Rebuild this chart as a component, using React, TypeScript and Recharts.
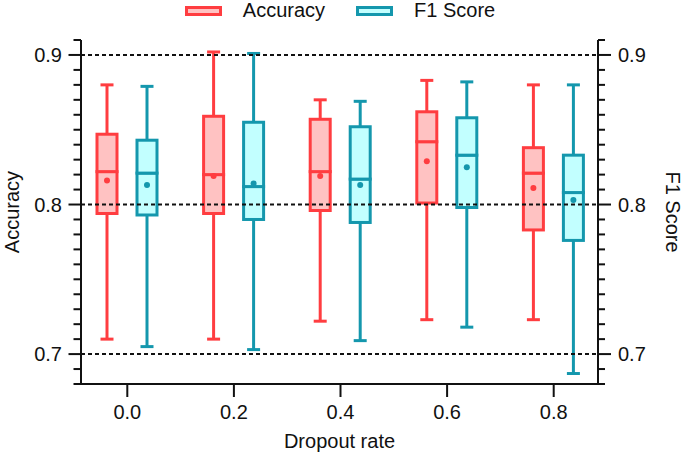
import React from 'react';
import { ComposedChart, Bar, XAxis, YAxis, ReferenceLine, Legend } from 'recharts';

// ---- data ----
const rates = ['0.0', '0.2', '0.4', '0.6', '0.8'];

const accMin = [0.710, 0.710, 0.722, 0.723, 0.723];
const accQ1 = [0.794, 0.794, 0.796, 0.801, 0.783];
const accMedian = [0.822, 0.820, 0.822, 0.842, 0.821];
const accQ3 = [0.847, 0.859, 0.857, 0.862, 0.838];
const accMax = [0.880, 0.902, 0.870, 0.883, 0.880];
const accMean = [0.816, 0.819, 0.819, 0.829, 0.811];

const f1Min = [0.705, 0.703, 0.709, 0.718, 0.687];
const f1Q1 = [0.793, 0.790, 0.788, 0.798, 0.776];
const f1Median = [0.821, 0.812, 0.817, 0.833, 0.808];
const f1Q3 = [0.843, 0.855, 0.852, 0.858, 0.833];
const f1Max = [0.879, 0.901, 0.869, 0.882, 0.880];
const f1Mean = [0.813, 0.814, 0.813, 0.825, 0.803];

const yTicks = [0.68, 0.69, 0.70, 0.71, 0.72, 0.73, 0.74, 0.75, 0.76, 0.77, 0.78, 0.79, 0.80,
  0.81, 0.82, 0.83, 0.84, 0.85, 0.86, 0.87, 0.88, 0.89, 0.90, 0.91];
const yMajor = [0.7, 0.8, 0.9];
const yDomain = [0.68, 0.91];

const seriesNames = ['Accuracy', 'F1 Score'];
const seriesStroke = ['#FF3D40', '#1497AD'];
const seriesFill = ['#FFC2C2', '#C2FFFF'];

// ---- table built from the arrays ----
const rows = rates.map((rate, i) => ({
  rate,
  accBase: accMin[i],
  accWLow: accQ1[i] - accMin[i],
  accBLow: accMedian[i] - accQ1[i],
  accBHigh: accQ3[i] - accMedian[i],
  accWHigh: accMax[i] - accQ3[i],
  accMedianV: accMedian[i],
  accQ3V: accQ3[i],
  accMeanV: accMean[i],
  f1Base: f1Min[i],
  f1WLow: f1Q1[i] - f1Min[i],
  f1BLow: f1Median[i] - f1Q1[i],
  f1BHigh: f1Q3[i] - f1Median[i],
  f1WHigh: f1Max[i] - f1Q3[i],
  f1MedianV: f1Median[i],
  f1Q3V: f1Q3[i],
  f1MeanV: f1Mean[i],
}));

const FONT = '"Liberation Sans", Arial, Helvetica, sans-serif';
const FS = 20;
const LW = 3;
const CAP = 13;
const AXIS = '#111';

const Empty = () => <g />;

const whiskerLow = (color: string) => (p: any) => {
  const cx = p.x + p.width / 2;
  const yb = p.y + p.height;
  return (
    <g>
      <line x1={cx} x2={cx} y1={p.y} y2={yb} stroke={color} strokeWidth={LW} />
      <line x1={cx - CAP / 2} x2={cx + CAP / 2} y1={yb} y2={yb} stroke={color} strokeWidth={LW} />
    </g>
  );
};

const whiskerHigh = (color: string) => (p: any) => {
  const cx = p.x + p.width / 2;
  return (
    <g>
      <line x1={cx} x2={cx} y1={p.y} y2={p.y + p.height} stroke={color} strokeWidth={LW} />
      <line x1={cx - CAP / 2} x2={cx + CAP / 2} y1={p.y} y2={p.y} stroke={color} strokeWidth={LW} />
    </g>
  );
};

const boxLow = (color: string, fill: string) => (p: any) => (
  <rect x={p.x} y={p.y} width={p.width} height={p.height} fill={fill} stroke={color} strokeWidth={LW} />
);

// upper half of box; mean dot placed on the scale defined by this segment (q3 at top, median at bottom)
const boxHigh = (color: string, fill: string, key: string) => (p: any) => {
  const pl = p.payload || {};
  const q3 = pl[key + 'Q3V'];
  const med = pl[key + 'MedianV'];
  const mean = pl[key + 'MeanV'];
  const cy = p.y + (p.height * (q3 - mean)) / (q3 - med);
  return (
    <g>
      <rect x={p.x} y={p.y} width={p.width} height={p.height} fill={fill} stroke={color} strokeWidth={LW} />
      <circle cx={p.x + p.width / 2} cy={cy} r={3} fill={color} />
    </g>
  );
};

const isMajor = (v: number) => yMajor.some((m) => Math.abs(m - v) < 1e-6);

const LeftTick = (p: any) => {
  const v = p.payload.value;
  const major = isMajor(v);
  return (
    <g>
      <line x1={p.x} x2={p.x - (major ? 12.5 : 7.5)} y1={p.y} y2={p.y} stroke={AXIS} strokeWidth={2} />
      {major && (
        <text x={p.x - 19} y={p.y} dy="0.36em" textAnchor="end" fontSize={FS} fill={AXIS} fontFamily={FONT}>
          {v.toFixed(1)}
        </text>
      )}
    </g>
  );
};

const RightTick = (p: any) => {
  const v = p.payload.value;
  const major = isMajor(v);
  return (
    <g>
      <line x1={p.x} x2={p.x + (major ? 13 : 7)} y1={p.y} y2={p.y} stroke={AXIS} strokeWidth={2} />
      {major && (
        <text x={p.x + 20} y={p.y} dy="0.36em" textAnchor="start" fontSize={FS} fill={AXIS} fontFamily={FONT}>
          {v.toFixed(1)}
        </text>
      )}
    </g>
  );
};

const LegendContent = () => (
  <div
    style={{
      display: 'flex',
      justifyContent: 'center',
      alignItems: 'center',
      height: 21,
      fontFamily: FONT,
      fontSize: FS,
      lineHeight: '21px',
      color: AXIS,
      whiteSpace: 'nowrap',
    }}
  >
    {seriesNames.map((name, i) => (
      <div key={name} style={{ display: 'flex', alignItems: 'center', marginLeft: i === 0 ? 0 : 31 }}>
        <svg width={37} height={10} style={{ display: 'block' }}>
          <rect x={1.5} y={1.5} width={34} height={7} fill={seriesFill[i]} stroke={seriesStroke[i]} strokeWidth={3} />
        </svg>
        <span style={{ marginLeft: 21, lineHeight: '21px' }}>{name}</span>
      </div>
    ))}
  </div>
);

const leftTitle = (p: any) => {
  const vb = p.viewBox || { x: 0, y: 40, width: 81, height: 344 };
  const x = vb.x + 12;
  const y = vb.y + vb.height / 2;
  return (
    <text x={x} y={y} dy="0.36em" transform={`rotate(-90, ${x}, ${y})`} textAnchor="middle" fontSize={FS} fill={AXIS} fontFamily={FONT}>
      Accuracy
    </text>
  );
};

const rightTitle = (p: any) => {
  const vb = p.viewBox || { x: 598, y: 40, width: 87, height: 344 };
  const x = vb.x + 75;
  const y = vb.y + vb.height / 2;
  return (
    <text x={x} y={y} dy="0.36em" transform={`rotate(90, ${x}, ${y})`} textAnchor="middle" fontSize={FS} fill={AXIS} fontFamily={FONT}>
      F1 Score
    </text>
  );
};

const bottomTitle = (p: any) => {
  const vb = p.viewBox || { x: 81, y: 384, width: 517, height: 76 };
  const x = vb.x + vb.width / 2;
  const y = vb.y + 57;
  return (
    <text x={x} y={y} dy="0.36em" textAnchor="middle" fontSize={FS} fill={AXIS} fontFamily={FONT}>
      Dropout rate
    </text>
  );
};

export default function App() {
  const [sA, sF] = seriesStroke;
  const [fA, fF] = seriesFill;
  return (
    <div style={{ position: 'absolute', left: 0, top: 0, width: 685, height: 460, fontFamily: FONT, background: '#fff' }}>
      <ComposedChart
        width={685}
        height={460}
        data={rows}
        margin={{ top: 40, right: 0, bottom: 0, left: 0 }}
        barSize={20}
        barGap={20}
      >
        <XAxis
          dataKey="rate"
          type="category"
          interval={0}
          padding={{ left: -7, right: -9 }}
          height={76}
          tickSize={13}
          tickMargin={8}
          axisLine={{ stroke: AXIS, strokeWidth: 2 }}
          tickLine={{ stroke: AXIS, strokeWidth: 2 }}
          tick={{ fill: AXIS, fontSize: FS, fontFamily: FONT }}
          label={{ content: bottomTitle }}
        />
        <YAxis
          yAxisId="left"
          orientation="left"
          type="number"
          width={81}
          domain={yDomain}
          allowDataOverflow
          ticks={yTicks}
          interval={0}
          tickSize={0}
          tickMargin={0}
          tickLine={false}
          axisLine={{ stroke: AXIS, strokeWidth: 2 }}
          tick={<LeftTick />}
          label={{ content: leftTitle }}
        />
        <YAxis
          yAxisId="right"
          orientation="right"
          type="number"
          width={87}
          domain={yDomain}
          allowDataOverflow
          ticks={yTicks}
          interval={0}
          tickSize={0}
          tickMargin={0}
          tickLine={false}
          axisLine={{ stroke: AXIS, strokeWidth: 2 }}
          tick={<RightTick />}
          label={{ content: rightTitle }}
        />
        <Legend
          layout="vertical"
          verticalAlign="middle"
          align="center"
          wrapperStyle={{ top: 0, left: 0, width: 680 }}
          content={<LegendContent />}
        />

        <Bar yAxisId="left" stackId="acc" dataKey="accBase" shape={<Empty />} isAnimationActive={false} />
        <Bar yAxisId="left" stackId="acc" dataKey="accWLow" shape={whiskerLow(sA)} isAnimationActive={false} />
        <Bar yAxisId="left" stackId="acc" dataKey="accBLow" shape={boxLow(sA, fA)} isAnimationActive={false} />
        <Bar yAxisId="left" stackId="acc" dataKey="accBHigh" shape={boxHigh(sA, fA, 'acc')} isAnimationActive={false} />
        <Bar yAxisId="left" stackId="acc" dataKey="accWHigh" shape={whiskerHigh(sA)} isAnimationActive={false} />

        <Bar yAxisId="right" stackId="f1" dataKey="f1Base" shape={<Empty />} isAnimationActive={false} />
        <Bar yAxisId="right" stackId="f1" dataKey="f1WLow" shape={whiskerLow(sF)} isAnimationActive={false} />
        <Bar yAxisId="right" stackId="f1" dataKey="f1BLow" shape={boxLow(sF, fF)} isAnimationActive={false} />
        <Bar yAxisId="right" stackId="f1" dataKey="f1BHigh" shape={boxHigh(sF, fF, 'f1')} isAnimationActive={false} />
        <Bar yAxisId="right" stackId="f1" dataKey="f1WHigh" shape={whiskerHigh(sF)} isAnimationActive={false} />

        {yMajor.map((v) => (
          <ReferenceLine key={v} yAxisId="left" y={v} stroke={AXIS} strokeWidth={2} strokeDasharray="4 3" />
        ))}
      </ComposedChart>
    </div>
  );
}
